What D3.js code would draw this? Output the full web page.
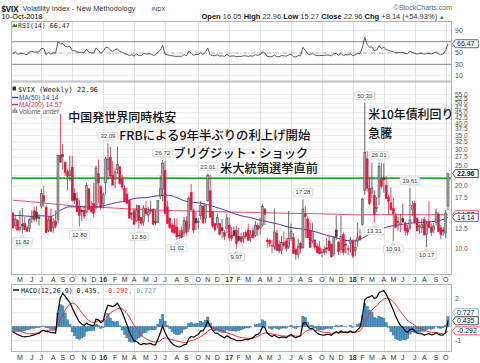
<!DOCTYPE html>
<html>
<head>
<meta charset="utf-8">
<script src="https://cdn.jsdelivr.net/npm/d3@7"></script>
<style>
  body { margin: 0; background: #fff; }
  svg { display: block; }
</style>
</head>
<body>
<svg width="480" height="363"></svg>
<script>
'use strict'

// weekly bars, the first one is the week ending 10-Apr-2015, the last one 10-Oct-2018
const firstWeek = '2015-04-10'

const open = [
  14.8, 12.9, 13.7, 12.4, 13.1, 13.2, 12.6, 12.5, 13.9, 15.2,
  15.0, 14.1, 16.0, 18.0, 15.8, 12.3, 14.3, 12.6, 13.6, 13.8,
  28.1, 28.3, 25.9, 23.4, 22.4, 24.6, 18.4, 17.4, 15.8, 15.3,
  15.3, 15.0, 19.4, 15.8, 16.5, 15.9, 22.9, 19.9, 16.4, 20.7,
  24.0, 27.5, 22.5, 21.6, 24.0, 24.7, 21.6, 19.5, 18.3, 17.0,
  14.6, 15.2, 13.6, 16.1, 14.1, 13.5, 15.6, 14.5, 15.3, 15.5,
  13.5, 13.4, 17.8, 19.3, 23.8, 15.9, 14.0, 13.0, 12.9, 12.7,
  11.6, 12.2, 11.9, 13.5, 12.5, 18.6, 15.2, 14.0, 13.4, 14.4,
  16.0, 14.0, 17.0, 19.0, 15.0, 13.2, 13.0, 13.2, 12.6, 12.0,
  12.5, 13.0, 11.6, 12.2, 12.3, 11.5, 11.4, 11.2, 12.0, 12.3,
  11.3, 12.2, 11.6, 12.9, 12.6, 13.0, 15.5, 11.0, 11.0, 10.3,
  10.2, 11.9, 10.5, 9.8, 10.7, 10.9, 10.2, 11.2, 11.3, 9.9,
  9.4, 10.6, 10.1, 14.7, 13.9, 12.2, 10.9, 11.0, 10.3, 10.1,
  9.6, 9.9, 10.1, 10.9, 10.5, 9.5, 12.3, 10.7, 9.9, 11.7,
  10.5, 10.0, 10.6, 10.9, 9.8, 10.9, 11.5, 13.1, 19.0, 27.0,
  19.5, 18.5, 18.0, 15.6, 17.7, 21.6, 21.9, 20.1, 17.7, 16.6,
  15.6, 14.4, 13.5, 13.1, 14.0, 13.3, 12.5, 12.6, 15.5, 16.5,
  14.0, 12.8, 12.6, 13.8, 11.7, 13.5, 12.7, 12.3, 13.4, 14.7,
  12.6, 12.3, 11.9, 16.05
]
const high = [
  15.0, 14.4, 13.9, 15.3, 15.7, 14.2, 12.9, 14.0, 15.3, 15.9,
  16.0, 14.7, 19.4, 20.0, 16.2, 14.2, 15.6, 14.0, 15.2, 28.4,
  53.29, 31.9, 26.4, 24.0, 28.0, 27.9, 19.5, 18.7, 17.2, 15.6,
  16.1, 20.7, 19.5, 17.0, 20.7, 25.0, 26.8, 20.2, 18.6, 27.6,
  32.09, 30.9, 26.3, 24.3, 30.9, 25.0, 22.6, 20.1, 19.6, 17.3,
  15.0, 15.6, 16.3, 16.2, 14.2, 16.2, 16.9, 15.9, 17.0, 15.6,
  15.3, 17.0, 22.5, 26.72, 26.4, 17.0, 14.1, 13.3, 14.0, 14.0,
  12.3, 12.8, 14.2, 14.3, 17.9, 20.5, 15.6, 15.0, 14.0, 17.0,
  16.5, 16.2, 23.01, 22.6, 15.2, 13.2, 14.8, 13.3, 13.9, 12.3,
  14.7, 14.2, 12.7, 12.8, 12.9, 12.6, 11.9, 12.0, 12.2, 13.2,
  12.3, 12.8, 13.6, 13.3, 14.1, 16.3, 15.7, 11.3, 11.1, 11.0,
  15.6, 12.3, 11.0, 11.5, 12.1, 11.2, 15.2, 13.2, 11.9, 10.1,
  11.2, 10.8, 17.28, 16.0, 14.3, 13.5, 13.3, 11.1, 10.6, 10.9,
  10.0, 10.3, 11.3, 11.6, 10.6, 11.5, 14.5, 10.9, 14.6, 12.0,
  11.1, 10.4, 11.4, 11.1, 11.1, 13.3, 12.4, 17.6, 50.3, 29.4,
  22.1, 25.9, 19.1, 17.7, 26.01, 25.8, 25.7, 22.3, 18.2, 19.7,
  17.6, 14.9, 14.2, 14.7, 16.5, 13.5, 13.0, 19.61, 17.0, 17.0,
  14.2, 13.1, 14.0, 14.2, 13.6, 16.9, 13.2, 13.3, 15.6, 14.9,
  13.0, 12.7, 15.3, 22.96
]
const low = [
  12.6, 12.5, 12.2, 12.1, 11.82, 12.3, 12.0, 12.0, 13.3, 13.5,
  13.5, 12.9, 15.6, 15.9, 11.9, 12.0, 12.1, 11.9, 12.5, 13.3,
  25.8, 24.0, 22.4, 19.1, 21.1, 16.8, 16.4, 15.0, 12.8, 13.6,
  13.9, 14.8, 15.3, 14.8, 14.1, 15.4, 16.6, 15.3, 15.6, 18.2,
  21.5, 21.9, 20.2, 19.5, 22.9, 20.3, 19.1, 16.7, 16.4, 14.1,
  13.7, 13.1, 13.5, 12.5, 12.9, 12.9, 14.4, 13.4, 14.7, 13.0,
  13.0, 13.3, 17.3, 16.9, 14.6, 13.2, 12.4, 11.9, 11.9, 11.02,
  11.1, 11.2, 11.4, 11.6, 12.0, 15.3, 11.9, 12.3, 12.4, 13.8,
  13.1, 13.3, 16.8, 14.2, 12.6, 12.1, 12.6, 11.6, 11.2, 11.0,
  11.9, 10.9, 10.9, 11.4, 9.97, 10.8, 10.6, 10.6, 11.1, 10.9,
  10.8, 11.2, 11.4, 11.5, 11.7, 12.8, 13.0, 10.1, 10.2, 9.56,
  9.9, 9.8, 9.5, 9.4, 10.0, 9.7, 10.0, 10.9, 9.5, 8.84,
  9.0, 9.5, 10.0, 11.3, 11.3, 10.1, 10.6, 9.9, 9.5, 9.4,
  9.1, 9.3, 9.5, 9.8, 9.1, 9.2, 11.0, 9.3, 9.6, 9.3,
  9.5, 9.3, 9.6, 9.0, 9.2, 10.2, 10.9, 12.9, 18.1, 18.8,
  16.2, 17.5, 13.31, 15.0, 16.2, 19.4, 18.6, 17.4, 14.6, 15.2,
  10.91, 12.6, 12.2, 12.0, 13.3, 11.6, 11.6, 12.3, 14.3, 13.1,
  12.1, 11.8, 11.9, 11.6, 10.17, 12.6, 11.5, 11.9, 12.9, 12.0,
  11.1, 11.5, 11.3, 15.27
]
const close = [
  12.58, 13.89, 12.29, 12.70, 12.86, 12.38, 12.13, 13.84, 14.21, 13.78,
  13.96, 14.02, 18.4, 16.83, 11.95, 13.74, 12.12, 13.39, 12.83, 28.03,
  26.05, 27.80, 23.20, 22.28, 23.62, 17.08, 17.08, 15.05, 14.46, 15.07,
  14.33, 20.08, 15.47, 15.12, 14.81, 24.39, 20.70, 15.74, 18.21, 27.01,
  27.02, 22.34, 20.20, 23.38, 25.40, 20.53, 19.81, 16.86, 16.50, 14.02,
  14.74, 13.10, 15.36, 13.62, 13.22, 15.70, 14.72, 15.04, 15.20, 13.12,
  13.47, 17.03, 19.41, 25.76, 14.77, 13.20, 12.67, 12.02, 11.87, 11.39,
  11.55, 11.34, 13.65, 11.98, 17.50, 15.37, 12.29, 13.29, 13.48, 16.12,
  13.34, 16.19, 22.51, 14.17, 12.85, 12.34, 14.12, 11.75, 12.20, 11.44,
  14.04, 11.32, 11.23, 11.54, 10.58, 10.97, 10.85, 11.49, 11.47, 10.96,
  11.66, 11.28, 12.96, 12.37, 12.87, 15.96, 14.63, 10.82, 10.57, 10.40,
  12.04, 9.81, 9.75, 10.70, 10.38, 10.02, 11.18, 12.12, 9.51, 9.36,
  10.29, 10.03, 15.51, 14.26, 11.28, 10.13, 12.12, 10.17, 9.59, 9.45,
  9.65, 9.61, 9.97, 9.80, 9.14, 11.29, 11.43, 9.67, 11.43, 9.58,
  10.49, 9.90, 11.04, 9.22, 10.16, 11.27, 11.08, 17.31, 29.06, 19.46,
  16.49, 19.59, 14.64, 15.80, 24.87, 19.97, 21.49, 17.41, 16.88, 15.41,
  14.77, 12.65, 13.42, 13.22, 13.46, 12.18, 11.98, 13.77, 16.09, 13.37,
  12.18, 12.86, 13.03, 11.64, 13.16, 12.64, 11.99, 12.86, 14.88, 12.07,
  11.68, 12.12, 14.82, 22.96
]

// moving averages read every 4th week, plus the last week
const ma50 = [
  14.5, 14.4, 14.3, 14.4, 14.3, 15.3, 15.9, 15.9, 15.9, 15.9,
  16.3, 16.7, 17.0, 17.5, 17.6, 17.9, 18.1, 17.8, 17.0, 16.7,
  16.5, 16.0, 15.5, 14.9, 14.4, 14.1, 13.7, 13.4, 13.1, 12.7,
  12.5, 12.3, 12.0, 11.6, 11.3, 10.95, 10.9, 11.4, 12.1, 12.6,
  12.9, 13.1, 13.3, 13.4, 13.5, 13.7, 14.14
]
const ma200 = [
  17.1, 16.95, 16.8, 16.6, 16.45, 16.3, 16.1, 15.95, 15.85, 15.8,
  15.75, 15.65, 15.55, 15.5, 15.42, 15.35, 15.3, 15.25, 15.2, 15.15,
  15.1, 15.08, 15.05, 15.0, 14.98, 14.95, 14.9, 14.87, 14.83, 14.8,
  14.78, 14.75, 14.72, 14.68, 14.65, 14.6, 14.55, 14.55, 14.56, 14.58,
  14.58, 14.57, 14.57, 14.56, 14.56, 14.56, 14.57
]

const rsi = [
  49, 52, 48, 49, 49.5, 48, 47, 52, 53, 51.5,
  52, 52, 58, 58, 47, 51, 48, 50.5, 49.5, 70,
  66, 67, 62, 61, 62, 54, 54, 52, 51, 51.5,
  50.5, 57, 51, 50.5, 50, 59, 55, 49.5, 53, 60,
  60, 55, 53, 56, 57.5, 52.5, 51.5, 48.5, 48, 45.5,
  47, 44.5, 48.5, 46, 45.5, 49.5, 48, 48.5, 48.5, 46,
  46.5, 51.5, 55, 63.5, 48, 46.5, 46, 45, 44.5, 44,
  44.3, 44, 47.5, 45, 53, 50, 46, 47.5, 47.5, 51,
  47.5, 51.5, 59, 47, 45.5, 45, 47, 44.5, 45, 44,
  48, 44.5, 44.5, 45, 43.5, 44, 44, 45, 45, 44,
  45, 44.5, 47, 46, 47, 52, 50, 44, 43.5, 43.5,
  46.5, 43.5, 43.5, 45.5, 45, 44.5, 46.5, 48, 43.5, 43,
  45.5, 45, 60, 55, 49, 46.5, 49.5, 46.5, 45.5, 45.5,
  45.8, 45.8, 46.5, 46.3, 45, 49, 49.3, 45.5, 49.3, 45.5,
  47.5, 46.5, 48.5, 45, 47, 49, 48.7, 60, 78, 65,
  60, 61, 54, 55.5, 63, 58, 60, 56, 55, 53.5,
  52.5, 50, 51, 50.5, 51, 49.5, 49, 53, 51, 49.5,
  48, 49.5, 49.5, 47.5, 49.5, 49.2, 48.2, 49.8, 52, 48.3,
  47.5, 48.4, 54, 66.47
]

const macd = [
  -0.38, -0.45, -0.55, -0.63, -0.7, -0.72, -0.7, -0.68, -0.62, -0.58,
  -0.52, -0.48, -0.3, -0.25, -0.35, -0.35, -0.42, -0.42, -0.45, 1.1,
  2.1, 2.4, 2.2, 1.95, 1.75, 1.35, 1.0, 0.65, 0.35, 0.2,
  0.1, 0.25, 0.15, 0.1, 0.05, 0.55, 0.5, 0.3, 0.4, 1.1,
  1.55, 1.5, 1.45, 1.55, 1.7, 1.4, 1.05, 0.6, 0.15, -0.35,
  -0.7, -1.0, -1.05, -1.2, -1.3, -1.2, -1.25, -1.22, -1.2, -1.3,
  -1.3, -0.9, -0.45, 0.05, -0.4, -0.75, -1.0, -1.2, -1.35, -1.42,
  -1.45, -1.4, -1.3, -1.25, -0.85, -0.7, -0.75, -0.65, -0.55, -0.3,
  -0.3, 0.0, 0.4, 0.05, -0.25, -0.45, -0.45, -0.6, -0.7, -0.8,
  -0.65, -0.75, -0.85, -0.9, -1.0, -1.0, -1.0, -0.95, -0.9, -0.92,
  -0.85, -0.8, -0.6, -0.55, -0.4, 0.0, -0.05, -0.45, -0.6, -0.7,
  -0.6, -0.72, -0.8, -0.75, -0.75, -0.78, -0.65, -0.55, -0.7, -0.8,
  -0.7, -0.65, 0.25, 0.3, 0.05, -0.15, -0.1, -0.3, -0.45, -0.55,
  -0.58, -0.6, -0.55, -0.55, -0.62, -0.45, -0.35, -0.45, -0.3, -0.4,
  -0.38, -0.4, -0.3, -0.42, -0.38, -0.2, -0.05, 0.75, 1.95, 2.1,
  2.15, 2.25, 2.05, 2.1, 2.45, 2.55, 2.6, 2.35, 2.0, 1.6,
  1.2, 0.75, 0.4, 0.1, -0.05, -0.3, -0.4, -0.2, -0.15, -0.3,
  -0.45, -0.5, -0.5, -0.6, -0.55, -0.5, -0.58, -0.55, -0.42, -0.55,
  -0.6, -0.58, -0.4, 0.435
]
const signal = [
  0.0, -0.1, -0.2, -0.3, -0.38, -0.44, -0.48, -0.5, -0.5, -0.48,
  -0.45, -0.42, -0.35, -0.3, -0.28, -0.26, -0.25, -0.23, -0.2, 0.1,
  0.5, 0.9, 1.2, 1.45, 1.6, 1.72, 1.65, 1.5, 1.25, 1.0,
  0.8, 0.6, 0.45, 0.35, 0.3, 0.38, 0.42, 0.42, 0.45, 0.6,
  0.8, 1.0, 1.1, 1.2, 1.3, 1.33, 1.28, 1.15, 0.95, 0.7,
  0.4, 0.1, -0.15, -0.4, -0.6, -0.75, -0.85, -0.95, -1.02, -1.07,
  -1.1, -1.08, -1.0, -0.85, -0.8, -0.83, -0.88, -0.93, -0.98, -1.03,
  -1.07, -1.1, -1.12, -1.12, -1.07, -1.0, -0.95, -0.88, -0.8, -0.7,
  -0.6, -0.48, -0.3, -0.2, -0.15, -0.15, -0.2, -0.25, -0.3, -0.38,
  -0.42, -0.48, -0.55, -0.6, -0.68, -0.73, -0.78, -0.8, -0.82, -0.83,
  -0.83, -0.8, -0.75, -0.7, -0.62, -0.5, -0.45, -0.45, -0.48, -0.52,
  -0.55, -0.58, -0.62, -0.65, -0.66, -0.68, -0.67, -0.65, -0.65, -0.67,
  -0.68, -0.67, -0.5, -0.35, -0.25, -0.22, -0.2, -0.22, -0.27, -0.32,
  -0.37, -0.4, -0.42, -0.44, -0.47, -0.46, -0.44, -0.44, -0.41, -0.41,
  -0.4, -0.4, -0.38, -0.39, -0.38, -0.35, -0.3, -0.08, 0.3, 0.65,
  0.95, 1.2, 1.37, 1.52, 1.7, 1.87, 2.0, 2.05, 2.05, 1.95,
  1.8, 1.6, 1.35, 1.1, 0.87, 0.65, 0.45, 0.33, 0.22, 0.12,
  0.0, -0.1, -0.18, -0.26, -0.32, -0.36, -0.4, -0.43, -0.43, -0.46,
  -0.49, -0.51, -0.49, -0.292
]
const hist = [
  -0.38, -0.35, -0.35, -0.33, -0.32, -0.28, -0.22, -0.18, -0.12, -0.1,
  -0.07, -0.06, 0.05, 0.05, -0.07, -0.09, -0.17, -0.19, -0.25, 1.0,
  1.6, 1.5, 1.0, 0.5, 0.15, -0.37, -0.65, -0.85, -0.9, -0.8,
  -0.7, -0.35, -0.3, -0.25, -0.25, 0.17, 0.08, -0.12, -0.05, 0.5,
  0.95, 0.6, 0.4, 0.35, 0.4, 0.07, -0.23, -0.55, -0.8, -1.05,
  -1.1, -1.1, -0.9, -0.8, -0.7, -0.45, -0.4, -0.27, -0.18, -0.23,
  -0.2, 0.18, 0.55, 0.9, 0.4, 0.08, -0.12, -0.35, -0.5, -0.58,
  -0.55, -0.45, -0.18, -0.13, 0.22, 0.3, 0.2, 0.23, 0.25, 0.4,
  0.3, 0.48, 0.7, 0.25, -0.1, -0.3, -0.25, -0.35, -0.4, -0.42,
  -0.23, -0.27, -0.3, -0.3, -0.32, -0.27, -0.22, -0.15, -0.08, -0.09,
  -0.02, 0.0, 0.15, 0.15, 0.22, 0.5, 0.4, 0.0, -0.12, -0.18,
  -0.05, -0.14, -0.18, -0.1, -0.09, -0.1, 0.02, 0.1, -0.05, -0.13,
  -0.02, 0.02, 0.75, 0.65, 0.3, 0.07, 0.1, -0.08, -0.18, -0.23,
  -0.21, -0.2, -0.13, -0.11, -0.15, 0.01, 0.09, -0.01, 0.11, 0.01,
  0.02, 0.0, 0.08, -0.03, 0.0, 0.15, 0.25, 0.83, 1.65, 1.45,
  1.2, 1.05, 0.68, 0.58, 0.75, 0.68, 0.6, 0.3, -0.05, -0.35,
  -0.6, -0.85, -0.95, -1.0, -0.92, -0.95, -0.85, -0.53, -0.37, -0.42,
  -0.45, -0.4, -0.32, -0.34, -0.23, -0.14, -0.18, -0.12, 0.01, -0.09,
  -0.11, -0.07, 0.09, 0.727
]

// weeks whose high / low carries a price flag
const highFlags = [40, 63, 82, 122, 148, 154, 167]
const lowFlags = [4, 28, 53, 69, 94, 152, 160, 174]

const greenLevel = 21.8
const mainTicks = d3.range(10, 55.01, 2.5)
const rsiTicks = [10, 30, 50, 70, 90]
const macdTicks = [-1, 0, 1, 2]
const monthLetters = 'JFMAMJJASOND'

const notes = [
  '中国発世界同時株安',
  'FRBによる9年半ぶりの利上げ開始',
  'ブリグジット・ショック',
  '米大統領選挙直前',
  '米10年債利回り',
  '急騰'
]

const sans = 'Liberation Sans, Arial, sans-serif'
const mono = 'DejaVu Sans Mono, monospace'
const cjk = 'Noto Sans CJK JP, sans-serif'

const svg = d3.select('svg')
const left = 11, right = 452
const rsiBox = [21, 81.5], mainBox = [81.5, 275], macdBox = [284, 352]

const weekZero = d3.timeParse('%Y-%m-%d')(firstWeek)
const dates = close.map((c, i) => d3.timeDay.offset(weekZero, 7 * i))
const last = close.length - 1
const maWeeks = d3.range(0, last, 4).concat([last])

const x = d3.scaleTime().domain([dates[0], dates[last]]).range([12.8, 448])
const yMain = d3.scaleLog().domain([7.48, 63.2]).range([275, 82])
const yRsi = d3.scaleLinear().domain([0, 100]).range([81.3, 24.75])
const yMacd = d3.scaleLinear().domain([-1.8, 3.1]).range([351.8, 283.7])

const monthStarts = dates.filter((d, i) => i > 0 && d.getMonth() !== dates[i - 1].getMonth())
const quarterStarts = monthStarts.filter(d => d.getMonth() % 3 === 0)

const defs = svg.append('defs')
defs.append('clipPath').attr('id', 'clipMain')
  .append('rect').attr('x', left).attr('y', mainBox[0]).attr('width', right - left).attr('height', mainBox[1] - mainBox[0])

// ---- grids ----
function vGrid(box) {
  svg.append('g').selectAll('line').data(quarterStarts).join('line')
    .attr('x1', d => Math.round(x(d)) + 0.5).attr('x2', d => Math.round(x(d)) + 0.5)
    .attr('y1', box[0]).attr('y2', box[1])
    .attr('stroke', '#e2e2e2').attr('stroke-width', 1)
}
vGrid(rsiBox)
vGrid(mainBox)
vGrid(macdBox)

svg.append('g').selectAll('line').data(mainTicks).join('line')
  .attr('x1', left).attr('x2', right)
  .attr('y1', d => yMain(d)).attr('y2', d => yMain(d))
  .attr('stroke', '#e6e6e6').attr('stroke-width', 0.8)

svg.append('g').selectAll('line').data(macdTicks).join('line')
  .attr('x1', left).attr('x2', right)
  .attr('y1', d => yMacd(d)).attr('y2', d => yMacd(d))
  .attr('stroke', '#e2e2e2').attr('stroke-width', 0.8)

svg.append('g').selectAll('line').data(rsiTicks).join('line')
  .attr('x1', left).attr('x2', right)
  .attr('y1', d => yRsi(d)).attr('y2', d => yRsi(d))
  .attr('stroke', d => (d === 30 || d === 70) ? '#777' : (d === 50 ? '#999' : '#e2e2e2'))
  .attr('stroke-width', d => (d === 30 || d === 70) ? 0.9 : 0.8)
  .attr('stroke-dasharray', d => d === 50 ? '4,1.5,1,1.5' : null)

// ---- RSI ----
svg.append('path')
  .datum(rsi)
  .attr('fill', 'none').attr('stroke', '#333').attr('stroke-width', 0.8)
  .attr('d', d3.line().x((v, i) => x(dates[i])).y(v => yRsi(v)))

// ---- price pane ----
const priceG = svg.append('g').attr('clip-path', 'url(#clipMain)')

priceG.append('line')
  .attr('x1', left).attr('x2', right)
  .attr('y1', yMain(greenLevel)).attr('y2', yMain(greenLevel))
  .attr('stroke', '#22b03a').attr('stroke-width', 2)

const maLine = d3.line()
  .x((v, k) => x(dates[maWeeks[k]]))
  .y(v => yMain(v))
  .curve(d3.curveMonotoneX)

priceG.append('path').datum(ma200)
  .attr('fill', 'none').attr('stroke', '#e2506c').attr('stroke-width', 1)
  .attr('d', maLine)
priceG.append('path').datum(ma50)
  .attr('fill', 'none').attr('stroke', '#3d3db8').attr('stroke-width', 1)
  .attr('d', maLine)

const idx = d3.range(close.length)
const upWeek = i => close[i] >= (i ? close[i - 1] : open[i])
const hollow = i => close[i] > open[i]
const edgeColor = i => upWeek(i) ? '#444' : '#e3173e'
const bodyColor = i => hollow(i) ? (upWeek(i) ? '#a3a3a3' : '#f29aab') : (upWeek(i) ? '#3a3a3a' : '#e3173e')

priceG.append('g').selectAll('line').data(idx).join('line')
  .attr('x1', i => x(dates[i])).attr('x2', i => x(dates[i]))
  .attr('y1', i => yMain(high[i])).attr('y2', i => yMain(low[i]))
  .attr('stroke', edgeColor).attr('stroke-width', 0.8)

priceG.append('g').selectAll('rect').data(idx).join('rect')
  .attr('x', i => x(dates[i]) - 1)
  .attr('width', 2)
  .attr('y', i => Math.min(yMain(open[i]), yMain(close[i])))
  .attr('height', i => Math.max(0.8, Math.abs(yMain(open[i]) - yMain(close[i]))))
  .attr('fill', bodyColor)
  .attr('stroke', edgeColor).attr('stroke-width', 0.5)

// ---- MACD pane ----
const zero = yMacd(0)
svg.append('g').selectAll('rect').data(idx).join('rect')
  .attr('x', i => x(dates[i]) - 1.15)
  .attr('width', 2.3)
  .attr('y', i => Math.min(zero, yMacd(hist[i])))
  .attr('height', i => Math.abs(yMacd(hist[i]) - zero))
  .attr('fill', '#4b97c9').attr('stroke', '#23638f').attr('stroke-width', 0.4)

svg.append('path').datum(signal)
  .attr('fill', 'none').attr('stroke', '#ff2a2a').attr('stroke-width', 1)
  .attr('d', d3.line().x((v, i) => x(dates[i])).y(v => yMacd(v)))
svg.append('path').datum(macd)
  .attr('fill', 'none').attr('stroke', '#000').attr('stroke-width', 1.2)
  .attr('d', d3.line().x((v, i) => x(dates[i])).y(v => yMacd(v)))

// ---- pane frames ----
;[rsiBox, mainBox, macdBox].forEach(b => {
  svg.append('rect')
    .attr('x', left + 0.5).attr('y', b[0] + 0.5)
    .attr('width', right - left - 1).attr('height', b[1] - b[0] - 1)
    .attr('fill', 'none').attr('stroke', '#b5b5b5').attr('stroke-width', 1)
})

// ---- legends ----
const lg = svg.append('g')
lg.append('rect').attr('x', left + 1).attr('y', 83).attr('width', 90).attr('height', 31).attr('fill', '#fff')
lg.append('rect').attr('x', 12.5).attr('y', 86.5).attr('width', 3.5).attr('height', 4).attr('fill', '#333')
lg.append('text').attr('x', 18).attr('y', 92).attr('font-family', mono).attr('font-size', 7)
  .attr('fill', '#222').text('$VIX (Weekly) ' + close[last].toFixed(2))
lg.append('line').attr('x1', 12).attr('x2', 18).attr('y1', 97.5).attr('y2', 97.5).attr('stroke', '#3d3db8').attr('stroke-width', 1.5)
lg.append('text').attr('x', 19).attr('y', 100).attr('font-family', sans).attr('font-size', 6.5)
  .attr('fill', '#3d3db8').text('MA(50) ' + ma50[ma50.length - 1].toFixed(2))
lg.append('line').attr('x1', 12).attr('x2', 18).attr('y1', 104.5).attr('y2', 104.5).attr('stroke', '#e2304c').attr('stroke-width', 1.5)
lg.append('text').attr('x', 19).attr('y', 107).attr('font-family', sans).attr('font-size', 6.5)
  .attr('fill', '#e2304c').text('MA(200) ' + ma200[ma200.length - 1].toFixed(2))
lg.append('path').attr('d', 'M12.5,113V109.5h1.2V113M14.3,113V108h1.2V113M16.1,113V110h1.2V113').attr('fill', '#777')
lg.append('text').attr('x', 19).attr('y', 113.5).attr('font-family', sans).attr('font-size', 6.5)
  .attr('fill', '#555').text('Volume undef')

svg.append('path').attr('d', 'M12,27 L14,23 L15.5,25.5 L17,23.5 L17,27 Z').attr('fill', '#2a8a2a')
svg.append('text').attr('x', 18).attr('y', 27.5).attr('font-family', mono).attr('font-size', 6.6)
  .attr('fill', '#222').text('RSI(14) ' + rsi[last].toFixed(2))

const ml = svg.append('text').attr('x', 21).attr('y', 292.5).attr('font-family', mono).attr('font-size', 6.6)
svg.append('line').attr('x1', 13).attr('x2', 19).attr('y1', 290).attr('y2', 290).attr('stroke', '#000').attr('stroke-width', 1.4)
ml.append('tspan').attr('fill', '#111').text('MACD(12,26,9) ' + macd[last].toFixed(3))
ml.append('tspan').attr('fill', '#ff2a2a').text(', ' + signal[last].toFixed(3))
ml.append('tspan').attr('fill', '#3aa3dc').text(', ' + hist[last].toFixed(3))

// ---- high / low flags ----
const flagG = svg.append('g').attr('font-family', sans).attr('font-size', 6)
function flag(i, val, below) {
  const px = x(dates[i])
  const py = yMain(val)
  const label = val.toFixed(2)
  const w = label.length * 3.35 + 3
  const cy = below ? py + 8 : py - 7
  flagG.append('path')
    .attr('d', below
      ? `M${px},${py + 1.5} l-2,2.5 h4 z`
      : `M${px},${py - 1.5} l-2,-2.5 h4 z`)
    .attr('fill', '#fff').attr('stroke', '#bbb').attr('stroke-width', 0.6)
  flagG.append('rect')
    .attr('x', px - w / 2).attr('y', cy - 3.8).attr('width', w).attr('height', 7.6).attr('rx', 1)
    .attr('fill', '#fff').attr('stroke', '#c4c4c4').attr('stroke-width', 0.6)
  flagG.append('text').attr('x', px).attr('y', cy + 2.2).attr('text-anchor', 'middle')
    .attr('fill', '#333').text(label)
}
highFlags.forEach(i => flag(i, high[i], false))
lowFlags.forEach(i => flag(i, low[i], true))

// ---- notes ----
const notePlaces = [[68.3, 121.5, 108], [119.3, 140, 191], [173.3, 157.5, 135], [220, 173, 98], [368.3, 118.5, 85], [368.3, 137.5, 24]]
notes.forEach((t, k) => {
  const [nx, ny, nw] = notePlaces[k]
  svg.append('text').attr('x', nx).attr('y', ny)
    .attr('font-family', cjk).attr('font-size', 12.2).attr('font-weight', 500)
    .attr('fill', '#111')
    .attr('textLength', nw).attr('lengthAdjust', 'spacingAndGlyphs')
    .text(t)
})

// ---- right value tags, then the tick labels they leave visible ----
const yM = yMacd(macd[last])
const tags = [
  [yRsi(rsi[last]), rsi[last].toFixed(2), '#444', false],
  [yMain(close[last]), close[last].toFixed(2), '#222', true],
  [yMain(ma200[ma200.length - 1]), ma200[ma200.length - 1].toFixed(2), '#e2304c', false],
  [yMain(ma50[ma50.length - 1]), ma50[ma50.length - 1].toFixed(2), '#3d3db8', false],
  [Math.min(yMacd(hist[last]), yM - 8), hist[last].toFixed(3), '#5aaad8', false],
  [yM, macd[last].toFixed(3), '#222', false],
  [Math.max(yMacd(signal[last]), yM + 9), signal[last].toFixed(3), '#ff2a2a', false]
]
const free = y => tags.every(t => Math.abs(t[0] - y) > 5.5)

const axG = svg.append('g').attr('font-family', sans).attr('fill', '#555')
axG.selectAll('text.m').data(mainTicks.filter(d => free(yMain(d)))).join('text')
  .attr('x', 455).attr('y', d => yMain(d) + 2.2).attr('font-size', 6.5).text(d3.format('.1f'))
axG.selectAll('text.r').data(rsiTicks.filter(d => free(yRsi(d)))).join('text')
  .attr('x', 455).attr('y', d => yRsi(d) + 2.4).attr('font-size', 7).text(d => d)
axG.selectAll('text.c').data(macdTicks.filter(d => free(yMacd(d)))).join('text')
  .attr('x', 455).attr('y', d => yMacd(d) + 2.4).attr('font-size', 7).text(d => d)

tags.forEach(([y, text, color, bold]) => {
  const w = text.length * 3.75 + 4
  svg.append('path')
    .attr('d', `M${right + 0.5},${y} l3,-4 h${w} v8 h${-w} z`)
    .attr('fill', '#fff').attr('stroke', color).attr('stroke-width', 0.8)
  svg.append('text').attr('x', right + 5).attr('y', y + 2.5)
    .attr('font-family', sans).attr('font-size', 7).attr('font-weight', bold ? 'bold' : null)
    .attr('fill', '#111').text(text)
})

// ---- month labels ----
function monthAxis(yBase) {
  svg.append('g').selectAll('text').data(monthStarts).join('text')
    .attr('x', d => x(d)).attr('y', yBase).attr('text-anchor', 'middle')
    .attr('font-family', sans).attr('font-size', 7)
    .attr('font-weight', d => d.getMonth() === 0 ? 'bold' : null)
    .attr('fill', '#333')
    .text(d => d.getMonth() === 0 ? d3.timeFormat('%y')(d) : monthLetters[d.getMonth()])
}
monthAxis(281.8)
monthAxis(360.3)

// ---- header ----
const hd = svg.append('g').attr('font-family', sans)
hd.append('text').attr('x', 1.5).attr('y', 11.5).attr('font-size', 9.5).attr('font-weight', 'bold')
  .attr('textLength', 17).attr('lengthAdjust', 'spacingAndGlyphs').text('$VIX')
hd.append('text').attr('x', 22.5).attr('y', 11).attr('font-size', 7.4).attr('fill', '#333').text('Volatility Index - New Methodology')
hd.append('text').attr('x', 151.5).attr('y', 11).attr('font-size', 5.8).attr('fill', '#333').text('INDX')
hd.append('text').attr('x', 452).attr('y', 9.5).attr('font-size', 7).attr('text-anchor', 'end').attr('fill', '#666').text('©StockCharts.com')
hd.append('text').attr('x', 1.5).attr('y', 19).attr('font-size', 7.4).text('10-Oct-2018')

const chg = close[last] - close[last - 1]
const quote = [
  ['Open', open[last].toFixed(2)],
  ['High', high[last].toFixed(2)],
  ['Low', low[last].toFixed(2)],
  ['Close', close[last].toFixed(2)],
  ['Chg', '+' + chg.toFixed(2) + ' (+' + (100 * chg / close[last - 1]).toFixed(2) + '%)']
]
const qt = hd.append('text').attr('x', 201.5).attr('y', 19.2).attr('font-size', 7.5)
quote.forEach(([k, v], n) => {
  qt.append('tspan').attr('font-weight', 'bold').attr('fill', '#111').text((n ? ' ' : '') + k + ' ')
  qt.append('tspan').attr('fill', '#333').text(v)
})
qt.append('tspan').attr('fill', '#1a9a2a').attr('font-size', 6).text(' ▲')
</script>
</body>
</html>
